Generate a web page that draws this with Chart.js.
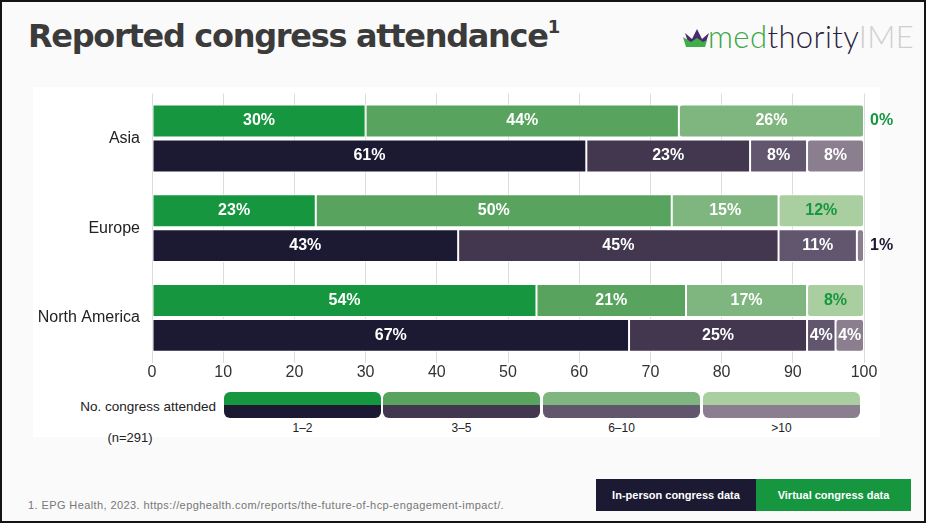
<!DOCTYPE html>
<html>
<head>
<meta charset="utf-8">
<script src="https://cdn.jsdelivr.net/npm/chart.js@4.4.1/dist/chart.umd.min.js"></script>
<style>
  html, body { margin: 0; padding: 0; background: #ffffff; }
  #frame {
    position: absolute; left: 0; top: 0; width: 922px; height: 519px;
    border: 2px solid #141414; background: #fafafa; overflow: hidden;
    font-family: "Liberation Sans", Arial, sans-serif;
  }
  #title {
    position: absolute; left: 26px; top: 14px; margin: 0;
    font-family: "DejaVu Sans", sans-serif; font-weight: bold; font-size: 32px;
    color: #3b3b3b; letter-spacing: -1.3px; white-space: nowrap;
  }
  #title sup { font-size: 18px; vertical-align: 14px; letter-spacing: 0; }
  #logo { position: absolute; left: 681px; top: 15px; white-space: nowrap; }
  #logo svg { position: absolute; left: 0; top: 10px; }
  #logo span.txt {
    position: absolute; left: 25px; top: 0; font-family: "Lato", sans-serif;
    font-weight: 300; font-size: 31px; letter-spacing: 0.4px;
  }
  #panel { position: absolute; left: 31px; top: 85px; width: 847px; height: 350px; background: #ffffff; }
  #chartWrap { position: absolute; left: 30px; top: 78px; width: 880px; height: 302px; }
  #legendTitle { position: absolute; left: 30px; width: 184px; top: 397px; text-align: right; font-size: 13.5px; color: #222; }
  #legendN { position: absolute; left: 78px; width: 100px; top: 428px; text-align: center; font-size: 13px; color: #222; }
  .lg { position: absolute; }
  .lgTop { position: absolute; left: 0; top: 0; right: 0; height: 13px; border-radius: 6px 6px 0 0; }
  .lgBot { position: absolute; left: 0; top: 13px; right: 0; height: 13px; border-radius: 0 0 6px 6px; }
  .lgLab { position: absolute; left: 0; right: 0; top: 29px; text-align: center; font-size: 12px; color: #222; }
  #foot { position: absolute; left: 26px; top: 497px; font-size: 11px; letter-spacing: 0.4px; color: #777; }
  .btn { position: absolute; top: 477px; height: 32px; line-height: 32px; text-align: center;
         color: #fff; font-size: 11px; font-weight: bold; }
</style>
</head>
<body>
<div id="frame">
  <h1 id="title">Reported congress attendance<sup>1</sup></h1>
  <div id="logo">
    <svg width="28" height="22" viewBox="0 0 28 22">
      <polygon points="2,6 9,12 14,2 19,12 26,6 22,18 6,18" fill="#4a2a6e"/>
      <polygon points="0,10 8,15 14,11 20,15 24,13 22,20 3,20" fill="#3fae49"/>
    </svg>
    <span class="txt"><span style="color:#3aa845">med</span><span style="color:#2c2340">thority</span><span style="color:#cfcfcf">IME</span></span>
  </div>
  <div id="panel"></div>
  <div id="chartWrap"><canvas id="chart"></canvas></div>
  <div id="legendTitle">No. congress attended</div>
  <div id="legendN">(n=291)</div>
  <div id="legend"></div>
  <div id="foot">1. EPG Health, 2023. https://epghealth.com/reports/the-future-of-hcp-engagement-impact/.</div>
  <div class="btn" style="left:594px; width:160px; background:#1c1a33;">In-person congress data</div>
  <div class="btn" style="left:754px; width:155px; background:#16963f;">Virtual congress data</div>
</div>

<script>
// --- Dados ---
const regions = ['Asia', 'Europe', 'North America'];
const groups = ['1–2', '3–5', '6–10', '>10'];

// Virtual congress (%)
const virtual12 = [30, 23, 54];
const virtual35 = [44, 50, 21];
const virtual610 = [26, 15, 17];
const virtualOver10 = [0, 12, 8];

// In-person congress (%)
const inPerson12 = [61, 43, 67];
const inPerson35 = [23, 45, 25];
const inPerson610 = [8, 11, 4];
const inPersonOver10 = [8, 1, 4];

const xTicks = [0, 10, 20, 30, 40, 50, 60, 70, 80, 90, 100];

// Cores
const virtualColors = ['#16963f', '#58a45e', '#7fb57f', '#a9cfa1'];
const inPersonColors = ['#1c1a33', '#42374f', '#62566f', '#8a7e8f'];
const virtualLabelColors = ['#ffffff', '#ffffff', '#ffffff', '#16963f'];
const inPersonLabelColors = ['#ffffff', '#ffffff', '#ffffff', '#ffffff'];

const virtualSeries = [virtual12, virtual35, virtual610, virtualOver10];
const inPersonSeries = [inPerson12, inPerson35, inPerson610, inPersonOver10];

function makeDataset(data, i, stack, colors, labelColors, mainColor) {
    return {
        label: groups[i],
        data: data,
        stack: stack,
        backgroundColor: colors[i],
        borderColor: '#ffffff',
        borderWidth: 1,
        borderSkipped: false,
        borderRadius: 3,
        labelColor: labelColors[i],
        outsideColor: mainColor,
        categoryPercentage: 0.778,
        barPercentage: 0.943
    };
}

const datasets = [];
virtualSeries.forEach((d, i) => datasets.push(makeDataset(d, i, 'virtual', virtualColors, virtualLabelColors, '#16963f')));
inPersonSeries.forEach((d, i) => datasets.push(makeDataset(d, i, 'inperson', inPersonColors, inPersonLabelColors, '#1c1a33')));

// Plugin simples para rótulos de valor
const valueLabels = {
    id: 'valueLabels',
    afterDatasetsDraw(chart) {
        const ctx = chart.ctx;
        ctx.save();
        ctx.font = 'bold 16px "Liberation Sans", Arial, sans-serif';
        ctx.textBaseline = 'middle';
        chart.data.datasets.forEach((ds, di) => {
            const meta = chart.getDatasetMeta(di);
            meta.data.forEach((bar, j) => {
                const v = ds.data[j];
                if (v < 3) {
                    // valores pequenos: rótulo fora, à direita
                    ctx.fillStyle = ds.outsideColor;
                    ctx.textAlign = 'left';
                    ctx.fillText(v + '%', chart.chartArea.right + 6, bar.y);
                } else {
                    ctx.fillStyle = ds.labelColor;
                    ctx.textAlign = 'center';
                    ctx.fillText(v + '%', (bar.base + bar.x) / 2, bar.y);
                }
            });
        });
        ctx.restore();
    }
};

new Chart(document.getElementById('chart'), {
    type: 'bar',
    data: { labels: regions, datasets: datasets },
    options: {
        indexAxis: 'y',
        responsive: true,
        maintainAspectRatio: false,
        animation: false,
        layout: { padding: { top: 6, right: 48, bottom: 0, left: 0 } },
        plugins: { legend: { display: false }, tooltip: { enabled: false } },
        scales: {
            x: {
                stacked: true,
                min: 0, max: 100,
                afterBuildTicks: (scale) => { scale.ticks = xTicks.map(v => ({ value: v })); },
                grid: { color: '#dcdcdc', drawTicks: false },
                border: { display: false },
                ticks: { color: '#333', padding: 0, font: { family: '"Liberation Sans", Arial, sans-serif', size: 16 } }
            },
            y: {
                stacked: true,
                afterFit: (scale) => { scale.width = 120; },
                grid: { display: false },
                border: { display: false },
                ticks: { color: '#222', padding: 4, font: { family: '"Liberation Sans", Arial, sans-serif', size: 16 } }
            }
        }
    },
    plugins: [valueLabels]
});

// Legenda inferior (No. congress attended)
const legendX = [222, 381, 541, 701];
const legend = document.getElementById('legend');
groups.forEach((g, i) => {
    const el = document.createElement('div');
    el.className = 'lg';
    el.style.left = legendX[i] + 'px';
    el.style.top = '390px';
    el.style.width = '157px';
    el.style.height = '44px';
    el.innerHTML = `
        <div class="lgTop" style="background:${virtualColors[i]}"></div>
        <div class="lgBot" style="background:${inPersonColors[i]}"></div>
        <div class="lgLab">${g}</div>`;
    legend.appendChild(el);
});
</script>
</body>
</html>
